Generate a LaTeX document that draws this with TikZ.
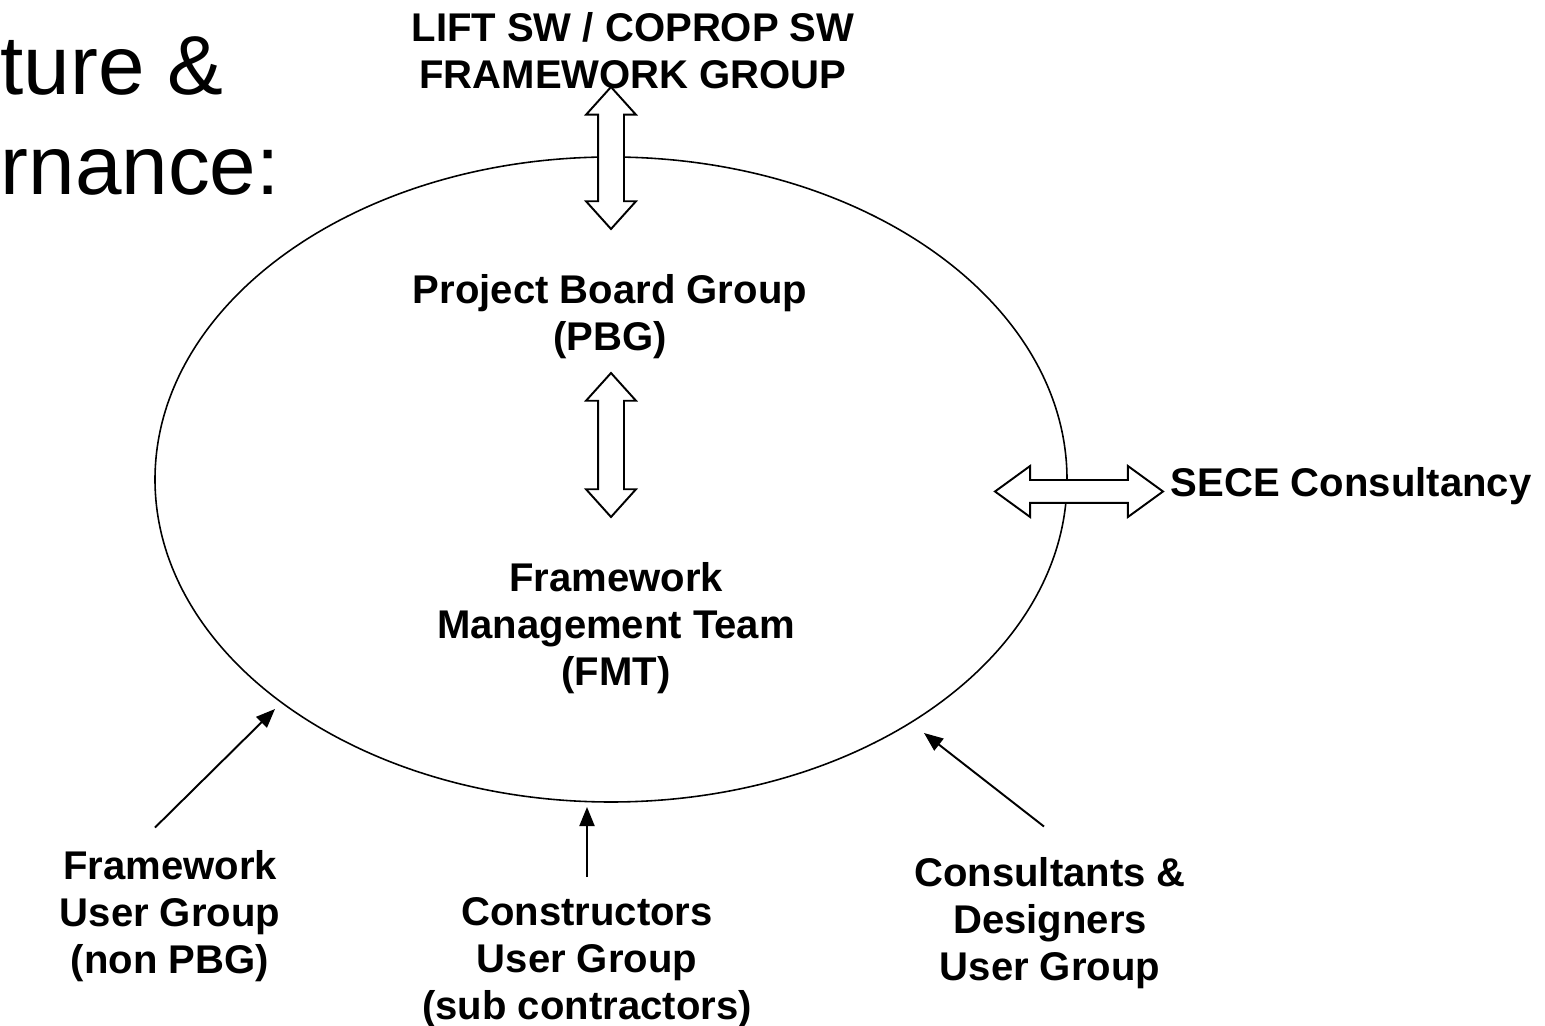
\documentclass[tikz,border=0pt]{standalone}
\usepackage{fontspec}
\setmainfont{Liberation Sans}
\usetikzlibrary{positioning}
\usetikzlibrary{shapes}
\usetikzlibrary{arrows.meta}

\begin{document}
\begin{tikzpicture}
    [groupname/.style={font=\bfseries\fontsize{11.4}{13.4}\selectfont, align=center, inner sep=0pt},
    titletext/.style={font=\fontsize{23.8}{28.4}\selectfont, inner sep=0pt, anchor=base west},
    twoway/.style={double arrow, draw, fill=white, line width=0.55pt, inner xsep=0pt, inner ysep=0.12cm, minimum width=0pt, double arrow head extend=0.12cm, double arrow tip angle=84},
    feed/.style={->, line width=0.55pt},
    >={Triangle[length=0.19cm, width=0.15cm]}]
    \useasboundingbox (0,0) rectangle (15.45,-10.26);
    %\draw[step=1cm,gray,very thin] (0,0) grid (15,-10);
    \node[titletext] (title1) at (0,-0.95) {ture \&};
    \node[titletext] (title2) at (0,-1.95) {rnance:};
    \node[ellipse, draw, line width=0.45pt, minimum width=9.12cm, minimum height=6.45cm, inner sep=0pt] (group) at (6.11,-4.795) {};
    \node[groupname] (lift) at (6.33,-0.505) {LIFT SW / COPROP SW\\FRAMEWORK GROUP};
    \node[groupname] (pbg) at (6.10,-3.17) {Project Board Group\\(PBG)};
    \node[groupname] (fmt) at (6.16,-6.28) {Framework\\Management Team\\(FMT)};
    \node[groupname, anchor=base west] (sece) at (11.70,-4.97) {SECE Consultancy};
    \node[groupname] (fug) at (1.70,-9.16) {Framework\\User Group\\(non PBG)};
    \node[groupname] (cug) at (5.87,-9.63) {Constructors\\User Group\\(sub contractors)};
    \node[groupname] (cdug) at (10.50,-9.23) {Consultants \&\\Designers\\User Group};
    \node[twoway, rotate=90, minimum height=1.42cm] (uplink) at (6.11,-1.58) {};
    \node[twoway, rotate=90, minimum height=1.44cm] (midlink) at (6.11,-4.45) {};
    \node[twoway, minimum height=1.68cm, inner ysep=0.105cm, double arrow head extend=0.14cm, double arrow tip angle=72] (secelink) at (10.79,-4.915) {};
    \coordinate (fugtip) at (2.75,-7.09);
    \coordinate (cugtip) at (5.87,-8.07);
    \coordinate (cdugtip) at (9.24,-7.33);
    \draw[feed] ([xshift=-0.15cm, yshift=0.22cm]fug.north) -- (fugtip);
    \draw[feed] ([yshift=0.2cm]cug.north) -- (cugtip);
    \draw[feed] ([xshift=-0.06cm, yshift=0.3cm]cdug.north) -- (cdugtip);
\end{tikzpicture}
\end{document}
